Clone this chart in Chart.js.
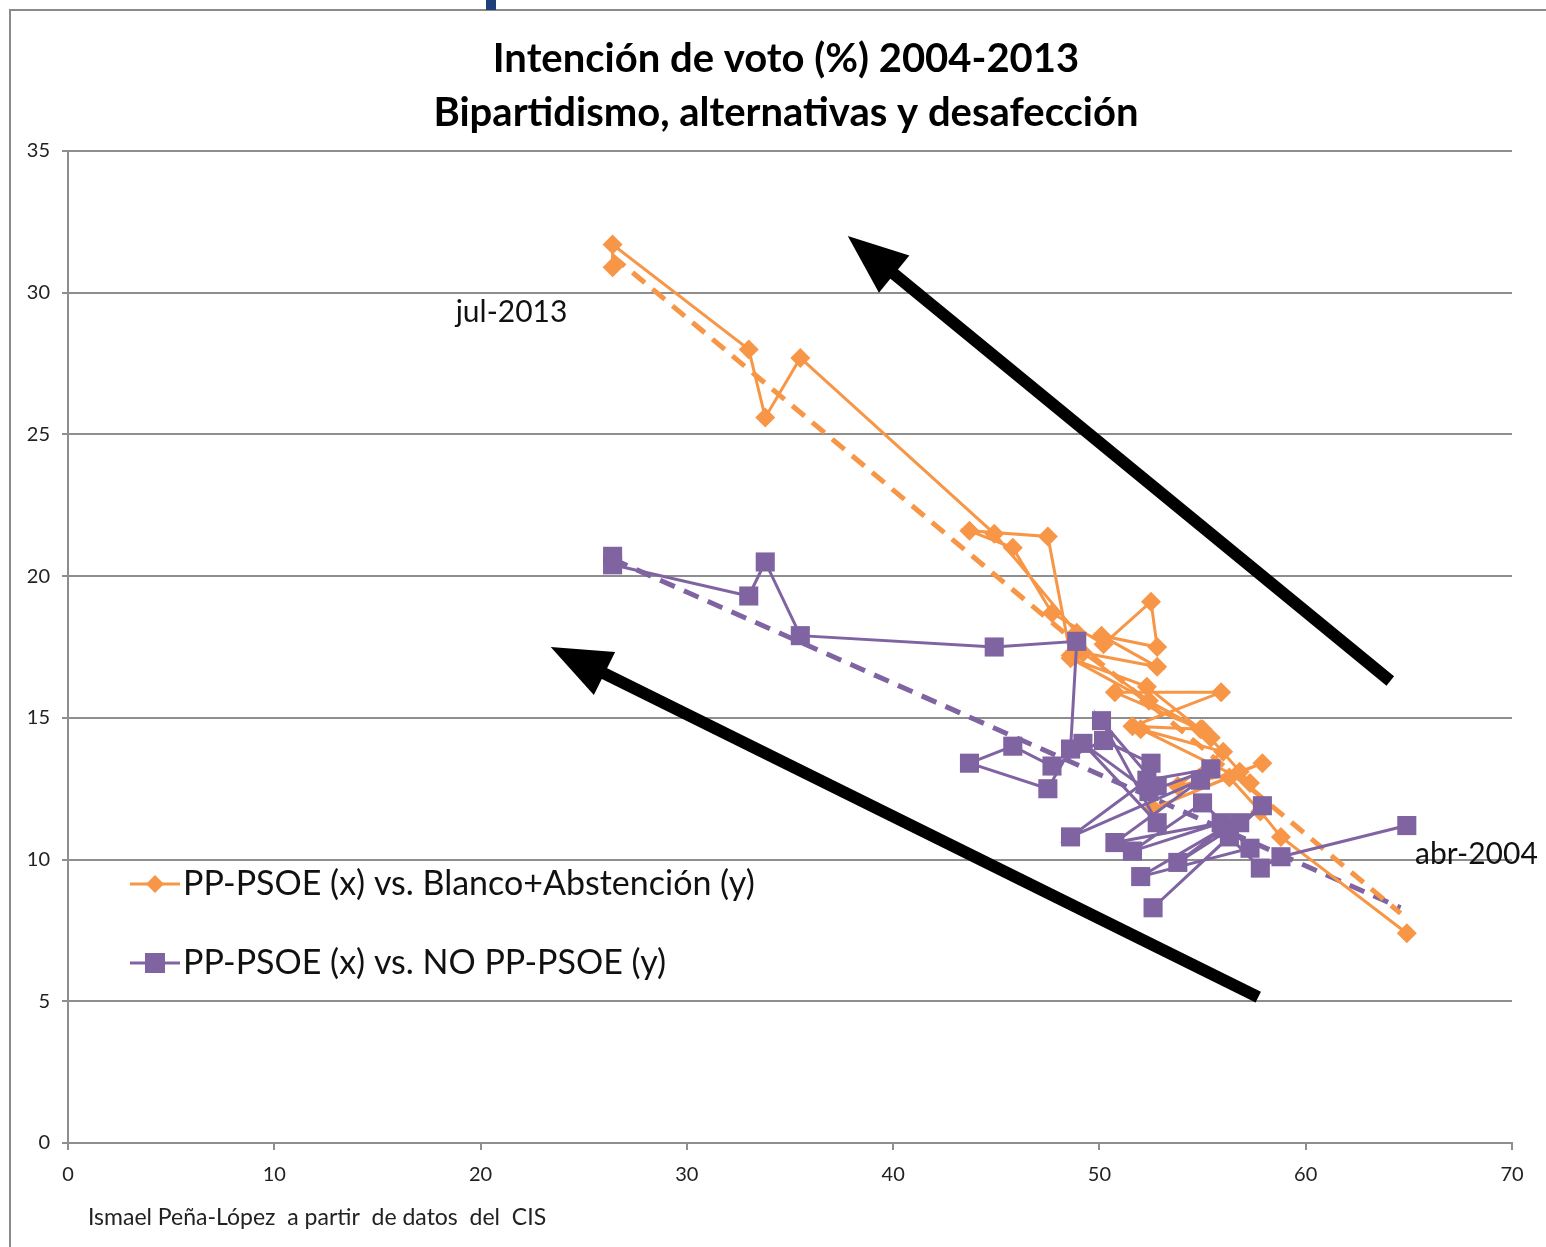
<!DOCTYPE html>
<html>
<head>
<meta charset="utf-8">
<title>Intención de voto 2004-2013</title>
<script src="https://cdn.jsdelivr.net/npm/chart.js@4"></script>
<style>
  html, body { margin: 0; padding: 0; background: #fff; }
  #wrap { width: 1546px; height: 1247px; position: relative; }
</style>
</head>
<body>
<div id="wrap"><canvas id="chart" width="1546" height="1247"></canvas></div>
<script>
// PP+PSOE (x), en orden cronológico abr-2004 -> jul-2013
const ppPsoe = [64.9, 58.8, 57.8, 56.3, 52.6, 57.9, 56.8, 53.8, 56.0, 52.0,
    57.3, 55.0, 51.6, 55.9, 50.75, 54.9, 48.6, 52.3, 55.4, 52.4,
    49.2, 52.8, 50.1, 52.8, 52.5, 50.2, 47.7, 45.8, 43.7, 47.5,
    48.6, 48.9, 44.9, 35.5, 33.8, 33.0, 26.4, 26.4];
// Blanco + Abstención (y)
const blancoAbst = [7.4, 10.8, 11.7, 12.9, 11.8, 13.4, 13.1, 12.6, 13.8, 14.6,
    12.7, 14.6, 14.7, 15.9, 15.9, 14.6, 17.1, 16.1, 14.3, 15.6,
    17.3, 16.8, 17.9, 17.5, 19.1, 17.6, 18.7, 21.0, 21.6, 21.4,
    17.2, 18.0, 21.5, 27.7, 25.6, 28.0, 31.7, 30.9];
// NO PP-PSOE (y)
const noPpPsoe = [11.2, 10.1, 9.7, 10.8, 8.3, 11.9, 11.3, 9.9, 11.1, 9.4,
    10.4, 12.0, 10.3, 11.3, 10.6, 12.8, 10.8, 12.8, 13.2, 12.4,
    14.1, 11.3, 14.9, 12.6, 13.4, 14.2, 13.3, 14.0, 13.4, 12.5,
    13.9, 17.7, 17.5, 17.9, 20.5, 19.3, 20.4, 20.7];

// lineas de tendencia (extremos)
const trendX = [26.4, 64.6];
const trendBlanco = [31.3, 8.1];
const trendNo = [20.6, 8.3];

// flechas: [desde, hasta] en coordenadas de datos
const arrowFrom = [[64.1, 16.3], [57.7, 5.15]];
const arrowTo = [[37.8, 32.0], [23.4, 17.5]];

const xTicks = [0, 10, 20, 30, 40, 50, 60, 70];
const yTicks = [0, 5, 10, 15, 20, 25, 30, 35];

const ORANGE = '#f79646';
const PURPLE = '#8064a2';
const GRID = '#8e8e8e';
const FONT = 'Lato, "Open Sans", sans-serif';

function toPoints(xs, ys) {
    return xs.map((x, i) => ({ x: x, y: ys[i] }));
}

const extrasPlugin = {
    id: 'extras',
    beforeDraw(chart) {
        const ctx = chart.ctx;
        ctx.save();
        // marco
        ctx.strokeStyle = '#8a8a8a';
        ctx.lineWidth = 2;
        ctx.beginPath();
        ctx.moveTo(10, 1247);
        ctx.lineTo(10, 10);
        ctx.lineTo(1546, 10);
        ctx.stroke();
        ctx.fillStyle = '#1f3f78';
        ctx.fillRect(486, 0, 10, 10);

        // titulo
        ctx.fillStyle = '#000';
        ctx.textAlign = 'center';
        ctx.textBaseline = 'middle';
        ctx.font = 'bold 40px ' + FONT;
        ctx.fillText('Intención de voto (%) 2004-2013', 786, 59);
        ctx.fillText('Bipartidismo, alternativas y desafección', 786, 113);

        // fuente
        ctx.textAlign = 'left';
        ctx.font = '23px ' + FONT;
        ctx.fillStyle = '#222';
        ctx.fillText('Ismael Peña-López  a partir  de datos  del  CIS', 88, 1218);
        ctx.restore();
    },
    afterDatasetsDraw(chart) {
        const ctx = chart.ctx;
        const xs = chart.scales.x;
        const ys = chart.scales.y;
        ctx.save();

        // flechas
        ctx.fillStyle = '#000';
        ctx.strokeStyle = '#000';
        arrowFrom.forEach((from, i) => {
            const x0 = xs.getPixelForValue(from[0]);
            const y0 = ys.getPixelForValue(from[1]);
            const x1 = xs.getPixelForValue(arrowTo[i][0]);
            const y1 = ys.getPixelForValue(arrowTo[i][1]);
            const ang = Math.atan2(y1 - y0, x1 - x0);
            const headLen = 60;
            const headW = 24;
            const bx = x1 - headLen * Math.cos(ang);
            const by = y1 - headLen * Math.sin(ang);
            ctx.lineWidth = 12;
            ctx.beginPath();
            ctx.moveTo(x0, y0);
            ctx.lineTo(bx + 5 * Math.cos(ang), by + 5 * Math.sin(ang));
            ctx.stroke();
            ctx.beginPath();
            ctx.moveTo(x1, y1);
            ctx.lineTo(bx + headW * Math.sin(ang), by - headW * Math.cos(ang));
            ctx.lineTo(bx - headW * Math.sin(ang), by + headW * Math.cos(ang));
            ctx.closePath();
            ctx.fill();
        });

        // etiquetas de extremos
        ctx.fillStyle = '#111';
        ctx.font = '30px ' + FONT;
        ctx.textBaseline = 'middle';
        ctx.textAlign = 'center';
        ctx.fillText('jul-2013', xs.getPixelForValue(21.5), ys.getPixelForValue(29.3));
        ctx.textAlign = 'left';
        ctx.fillText('abr-2004', xs.getPixelForValue(65.3), ys.getPixelForValue(10.2));

        // leyenda
        const items = [
            { text: 'PP-PSOE (x) vs. Blanco+Abstención (y)', color: ORANGE, style: 'diamond', y: 884 },
            { text: 'PP-PSOE (x) vs. NO PP-PSOE (y)', color: PURPLE, style: 'square', y: 963 }
        ];
        items.forEach(it => {
            ctx.strokeStyle = it.color;
            ctx.fillStyle = it.color;
            ctx.lineWidth = 3;
            ctx.beginPath();
            ctx.moveTo(130, it.y);
            ctx.lineTo(180, it.y);
            ctx.stroke();
            ctx.beginPath();
            if (it.style === 'diamond') {
                ctx.moveTo(155, it.y - 9);
                ctx.lineTo(164, it.y);
                ctx.lineTo(155, it.y + 9);
                ctx.lineTo(146, it.y);
                ctx.closePath();
            } else {
                ctx.rect(145, it.y - 10, 20, 20);
            }
            ctx.fill();
            ctx.fillStyle = '#111';
            ctx.font = '34px ' + FONT;
            ctx.fillText(it.text, 183, it.y);
        });
        ctx.restore();
    }
};

const ctx = document.getElementById('chart').getContext('2d');
new Chart(ctx, {
    type: 'scatter',
    data: {
        datasets: [
            {
                label: 'PP-PSOE (x) vs. NO PP-PSOE (y)',
                data: toPoints(ppPsoe, noPpPsoe),
                showLine: true,
                borderColor: PURPLE,
                backgroundColor: PURPLE,
                borderWidth: 3,
                pointStyle: 'rect',
                pointRadius: 13.5,
                pointBorderWidth: 0,
                order: 1
            },
            {
                label: 'PP-PSOE (x) vs. Blanco+Abstención (y)',
                data: toPoints(ppPsoe, blancoAbst),
                showLine: true,
                borderColor: ORANGE,
                backgroundColor: ORANGE,
                borderWidth: 3,
                pointStyle: 'rectRot',
                pointRadius: 10,
                pointBorderWidth: 0,
                order: 2
            },
            {
                label: 'tendencia blanco',
                data: toPoints(trendX, trendBlanco),
                showLine: true,
                borderColor: ORANGE,
                borderWidth: 5,
                borderDash: [16, 10],
                pointRadius: 0,
                order: 3
            },
            {
                label: 'tendencia no',
                data: toPoints(trendX, trendNo),
                showLine: true,
                borderColor: PURPLE,
                borderWidth: 5,
                borderDash: [16, 10],
                pointRadius: 0,
                order: 3
            }
        ]
    },
    options: {
        responsive: false,
        animation: false,
        devicePixelRatio: 1,
        layout: { padding: { top: 151, left: 0, right: 34, bottom: 0 } },
        plugins: {
            legend: { display: false },
            tooltip: { enabled: false },
            title: { display: false }
        },
        scales: {
            x: {
                type: 'linear',
                min: 0,
                max: 70,
                afterFit: s => { s.height = 104; },
                afterBuildTicks: s => { s.ticks = xTicks.map(v => ({ value: v })); },
                ticks: {
                    color: '#222',
                    font: { family: FONT, size: 20 },
                    padding: 13,
                    maxRotation: 0
                },
                grid: { drawOnChartArea: false, drawTicks: true, tickLength: 7, color: GRID, lineWidth: 2 },
                border: { display: true, color: GRID, width: 2 }
            },
            y: {
                type: 'linear',
                min: 0,
                max: 35,
                afterFit: s => { s.width = 68; },
                afterBuildTicks: s => { s.ticks = yTicks.map(v => ({ value: v })); },
                ticks: {
                    color: '#222',
                    font: { family: FONT, size: 20 },
                    padding: 12
                },
                grid: { drawTicks: true, tickLength: 6, color: GRID, lineWidth: 2 },
                border: { display: true, color: GRID, width: 2 }
            }
        }
    },
    plugins: [extrasPlugin]
});
</script>
</body>
</html>
